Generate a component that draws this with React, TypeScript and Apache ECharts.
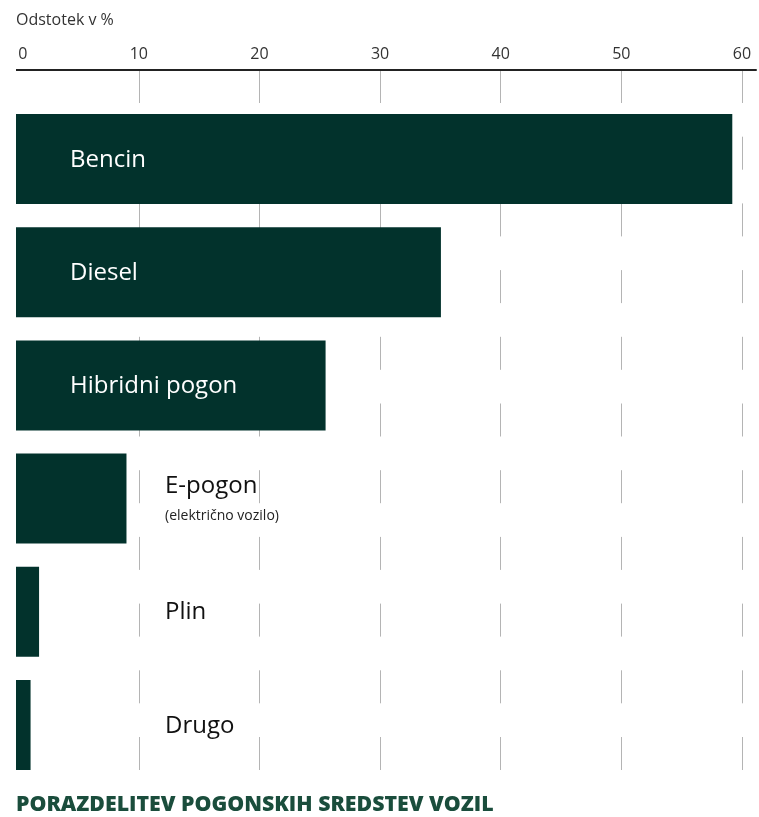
import React, { useEffect, useRef } from "react";
import * as echarts from "echarts";

const categories = ["Bencin", "Diesel", "Hibridni pogon", "E-pogon", "Plin", "Drugo"];
const values = [59.0, 35.0, 25.5, 9.1, 1.9, 1.2];
const subLabels: Record<string, string> = { "E-pogon": "(električno vozilo)" };
const tickValues = [0, 10, 20, 30, 40, 50, 60];

const axisTitle = "Odstotek v %";
const chartTitle = "PORAZDELITEV POGONSKIH SREDSTEV VOZIL";

const FONT = "'Open Sans', 'Noto Sans', sans-serif";
const BAR = "#02322c";
const GRID = "#b4b4b4";

export default function App() {
  const ref = useRef<HTMLDivElement>(null);
  useEffect(() => {
    if (!ref.current) return;
    const chart = echarts.init(ref.current, undefined, { renderer: "svg" });
    const maxTick = tickValues[tickValues.length - 1];
    const axisMax = 61.17;
    const barAxisMax = 61.2;

    const data = values.map((v, i) => {
      const name = categories[i];
      const inside = v > 20;
      const sub = subLabels[name];
      return {
        value: v,
        label: {
          show: true,
          position: [inside ? 54 : 149, "50%"],
          offset: sub ? [0, -4] : [0, -2],
          align: "left",
          verticalAlign: "middle",
          formatter: sub ? `{a|${name}}\n{b|${sub}}` : `{a|${name}}`,
          rich: {
            a: {
              fontFamily: FONT,
              fontSize: 24,
              lineHeight: sub ? 40 : 32,
              color: inside ? "#ffffff" : "#111111",
            },
            b: {
              fontFamily: FONT,
              fontSize: 14,
              lineHeight: 22,
              color: "#222222",
            },
          },
        },
      };
    });

    const splitColors = [
      "rgba(0,0,0,0)",
      ...tickValues.slice(1).map(() => GRID),
      "rgba(0,0,0,0)",
    ];

    chart.setOption({
      animation: false,
      grid: [
        { left: 18.2, right: 0, top: 70, bottom: 47 },
        { left: 16, right: 0, top: 102.4, bottom: 35.4 },
      ],
      xAxis: [
        {
          gridIndex: 0,
          type: "value",
          position: "top",
          min: 0,
          max: axisMax,
          interval: 10,
          axisLine: { show: true, onZero: false, lineStyle: { color: "#222", width: 2 } },
          axisTick: { show: false },
          axisLabel: {
            show: true,
            margin: 9,
            fontFamily: FONT,
            fontSize: 16,
            color: "#333",
            alignMinLabel: "left",
            formatter: (v: number) => (v > maxTick ? "" : String(v)),
          },
          splitLine: {
            show: true,
            lineStyle: { color: splitColors, width: 1, type: [33, 33.7] },
          },
        },
        {
          gridIndex: 1,
          type: "value",
          min: 0,
          max: barAxisMax,
          show: false,
          splitLine: { show: false },
        },
      ],
      yAxis: [
        { gridIndex: 0, type: "value", show: false, splitLine: { show: false } },
        {
          gridIndex: 1,
          type: "category",
          data: categories,
          inverse: true,
          show: false,
        },
      ],
      series: [
        {
          type: "bar",
          xAxisIndex: 1,
          yAxisIndex: 1,
          barWidth: 90,
          itemStyle: { color: BAR },
          data,
        },
      ],
      graphic: [
        {
          type: "line",
          shape: { x1: 16, y1: 70, x2: 20, y2: 70 },
          style: { stroke: "#222", lineWidth: 2 },
        },
        {
          type: "text",
          left: 16,
          top: 11,
          style: { text: axisTitle, fontFamily: FONT, fontSize: 16, fill: "#333" },
        },
        {
          type: "text",
          left: 16,
          top: 792,
          style: {
            text: chartTitle,
            fontFamily: FONT,
            fontSize: 21.3,
            fontWeight: 800,
            fill: "#1a4d3c",
          },
        },
      ],
    });
    return () => chart.dispose();
  }, []);
  return (
    <div
      ref={ref}
      style={{ position: "fixed", left: 0, top: 0, width: 759, height: 817 }}
    />
  );
}
